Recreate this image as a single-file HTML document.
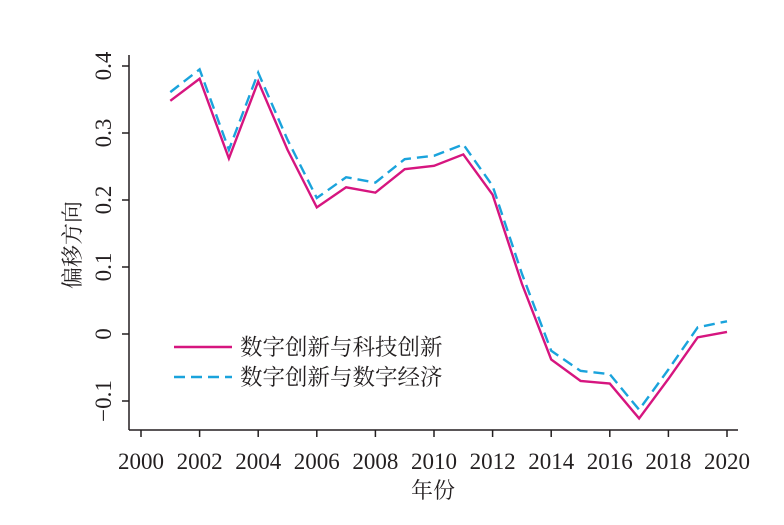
<!DOCTYPE html>
<html><head><meta charset="utf-8"><style>
html,body{margin:0;padding:0;background:#fff;}
svg text{font-family:"Liberation Serif","Noto Serif CJK SC",serif;fill:#231f20;}
.cjk{font-family:"Noto Serif CJK SC","Liberation Serif",serif !important;}
</style></head><body>
<svg id="chart" width="784" height="520" viewBox="0 0 784 520" xmlns="http://www.w3.org/2000/svg">
<g id="axes"></g>
<g id="series"></g>
<g id="legend">
  <line x1="174" y1="347" x2="232" y2="347" stroke="#d6157f" stroke-width="2.4"/>
  <text class="cjk" x="240" y="355" font-size="22.5">数字创新与科技创新</text>
  <line x1="174" y1="377" x2="232" y2="377" stroke="#1aa3dc" stroke-width="2.4" stroke-dasharray="11,6"/>
  <text class="cjk" x="240" y="385" font-size="22.5">数字创新与数字经济</text>
</g>
<text class="cjk" transform="translate(80,245) rotate(-90)" text-anchor="middle" font-size="22">偏移方向</text>
<text class="cjk" x="433" y="498" text-anchor="middle" font-size="22">年份</text>
</svg>
<script>
const years=[2001,2002,2003,2004,2005,2006,2007,2008,2009,2010,2011,2012,2013,2014,2015,2016,2017,2018,2019,2020];
const techValues=[0.348,0.381,0.262,0.377,0.275,0.189,0.219,0.211,0.246,0.251,0.268,0.208,0.075,-0.038,-0.070,-0.074,-0.126,-0.067,-0.005,0.003];
const econValues=[0.361,0.395,0.275,0.390,0.290,0.203,0.234,0.226,0.261,0.266,0.283,0.221,0.090,-0.025,-0.055,-0.060,-0.113,-0.053,0.010,0.019];
const xTicks=[2000,2002,2004,2006,2008,2010,2012,2014,2016,2018,2020];
const yTicks=[-0.1,0,0.1,0.2,0.3,0.4];
const yTickLabels=["−0.1","0","0.1","0.2","0.3","0.4"];

const NS="http://www.w3.org/2000/svg";
function xs(v){return 141+(v-2000)*(727-141)/20;}
function ys(v){return 334-v*670;}
function mk(tag,attrs,parent){const e=document.createElementNS(NS,tag);for(const k in attrs)e.setAttribute(k,attrs[k]);parent.appendChild(e);return e;}
const axes=document.getElementById('axes');
let l=mk('line',{x1:129,y1:55,x2:129,y2:430,stroke:'#231f20','stroke-width':1.5},axes);


l=mk('line',{x1:129,y1:430,x2:738,y2:430,stroke:'#231f20','stroke-width':1.5},axes);


yTicks.forEach((v,i)=>{
  const y=ys(v);
  const t=mk('line',{x1:122,y1:y,x2:129,y2:y,stroke:'#231f20','stroke-width':1.5},axes);
  
  
  const tx=mk('text',{transform:`translate(111,${y}) rotate(-90)`,'text-anchor':'middle','font-size':23},axes);
  tx.textContent=yTickLabels[i];
  
  
});
xTicks.forEach(v=>{
  const x=xs(v);
  const t=mk('line',{x1:x,y1:430,x2:x,y2:437,stroke:'#231f20','stroke-width':1.5},axes);
  
  
  const tx=mk('text',{x:x,y:469,'text-anchor':'middle','font-size':23},axes);
  tx.textContent=String(v);
  
  
});
const series=document.getElementById('series');
function pts(vals){return years.map((y,i)=>xs(y)+','+ys(vals[i])).join(' ');}
let p=mk('polyline',{points:pts(econValues),fill:'none',stroke:'#1aa3dc','stroke-width':2.4,'stroke-dasharray':'11,6'},series);


p=mk('polyline',{points:pts(techValues),fill:'none',stroke:'#d6157f','stroke-width':2.4},series);


</script>
</body></html>
